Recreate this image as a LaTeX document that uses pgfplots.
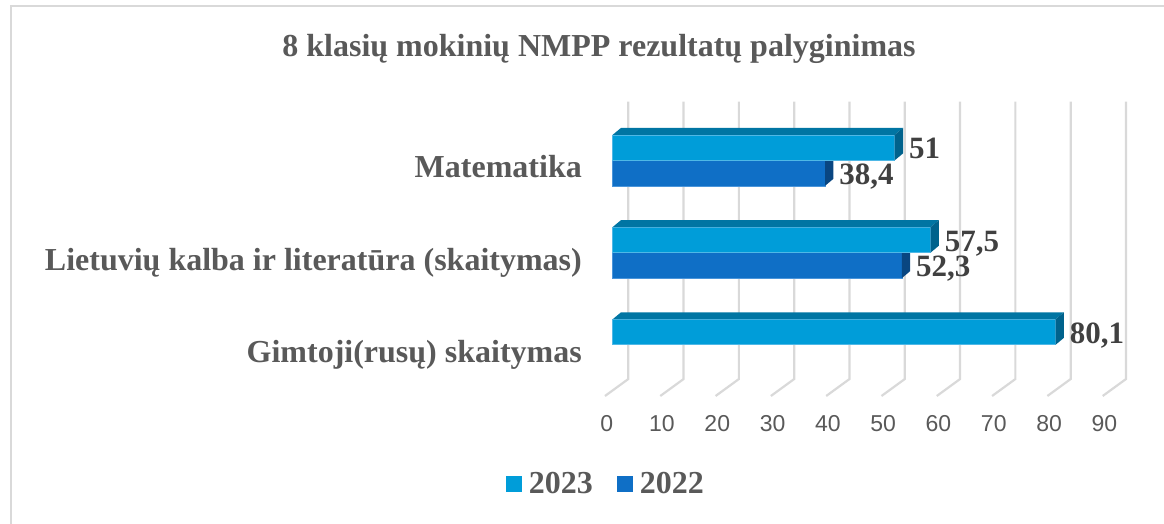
\documentclass[border=0pt]{standalone}
\usepackage{pgfplots}
\pgfplotsset{compat=1.18}
\usepackage{pgfplotstable}
\usepackage{fontspec}
\setmainfont{Liberation Serif}
\newfontfamily\arialf{Liberation Sans}
\definecolor{c23}{HTML}{009DD9}
\definecolor{c23l}{HTML}{4FB8E6}
\definecolor{top23}{HTML}{0075A3}
\definecolor{side23}{HTML}{00628C}
\definecolor{c22}{HTML}{0F6FC6}
\definecolor{c22l}{HTML}{4A95DA}
\definecolor{side22}{HTML}{094681}
\definecolor{gridc}{HTML}{D9D9D9}
\definecolor{txt}{HTML}{595959}
\definecolor{lbl}{HTML}{404040}

% category position c (0 = bottom), value v
\pgfplotstableread{
c v
2 51
1 57.5
0 80.1
}\tabA
\pgfplotstableread{
c v
2 38.4
1 52.3
}\tabB

\def\bwd{0.2766}\def\ddx{1.5}\def\ddy{0.075}

\begin{document}
\begin{tikzpicture}
\useasboundingbox (0,0) rectangle (1164bp,524bp);
\draw[gridc, line width=2bp] (11bp,0) -- (11bp,518bp) -- (1164bp,518bp);
\node[anchor=base, text=txt, inner sep=0pt, font=\bfseries\fontsize{32bp}{38bp}\selectfont] at (599bp,467bp) {8 klasių mokinių NMPP rezultatų palyginimas};
\begin{axis}[
  at={(605bp,128bp)}, anchor=south west,
  x=5.53bp, y=92.2bp,
  xmin=-1.39, xmax=92.82, ymin=-0.556, ymax=2.636,
  clip=false,
  axis line style={draw=none},
  tick style={draw=none},
  major tick length=0pt,
  xtick={0,10,...,90},
  ytick={0,1,2},
  yticklabels={Gimtoji(rusų) skaitymas, Lietuvių kalba ir literatūra (skaitymas), Matematika},
  /pgf/number format/assume math mode=true,
  /pgf/number format/use comma,
  /pgf/number format/1000 sep={},
  xticklabel style={anchor=center, inner sep=0pt, xshift=-6bp, yshift=-28bp, text=txt, font=\arialf\fontsize{23bp}{23bp}\selectfont},
  yticklabel style={anchor=base east, inner sep=0pt, xshift=-23bp, yshift=-17.6bp, text=txt, font=\bfseries\fontsize{32bp}{38bp}\selectfont},
  legend style={at={(0,-0.299)}, anchor=center, draw=none, fill=none, inner sep=0pt,
    legend columns=2, text=txt, font=\bfseries\fontsize{32bp}{38bp}\selectfont,
    nodes={inner sep=0pt},
    /tikz/every odd column/.append style={column sep=7bp},
    /tikz/every even column/.append style={column sep=24bp}},
  legend image code/.code={\fill[#1,draw=none] (0bp,-8bp) rectangle (16bp,8bp);},
  reverse legend,
  dlab/.style={nodes near coords, point meta=x,
    nodes near coords style={anchor=base west, inner sep=0pt, xshift=14bp, yshift=#1, text=lbl, font=\bfseries\fontsize{31bp}{31bp}\selectfont}},
]
% 3-D style gridlines (floor slant + back wall)
\pgfplotsinvokeforeach{0,10,...,90}{
  \draw[gridc, line width=2.2bp] ([xshift=-7.7bp]axis cs:#1,-0.556) -- ([xshift=15.6bp]axis cs:#1,-0.372) -- ([xshift=15.6bp]axis cs:#1,2.636);
}
% 2022 bars
\addplot[xbar, bar width=\bwd, bar shift=-0.1383, fill=c22, draw=c22l, line width=0.6bp, dlab=-24bp] table[x=v, y=c] {\tabB};
\addlegendentry{2022}
\pgfplotsinvokeforeach{0,1}{%
  \pgfplotstablegetelem{#1}{v}\of\tabB \let\V\pgfplotsretval
  \pgfplotstablegetelem{#1}{c}\of\tabB \let\C\pgfplotsretval
  \pgfmathsetmacro\Yb{\C-\bwd}
  \pgfmathsetmacro\Yt{\C}
  \pgfmathsetmacro\Ytt{\C+\ddy}
  \pgfmathsetmacro\Ybb{\C-\bwd+\ddy}
  \pgfmathsetmacro\Vd{\V+\ddx}
  \edef\doit{\noexpand\addplot[forget plot, draw=none, fill=side22] coordinates {(\V,\Yb) (\V,\Yt) (\Vd,\Ytt) (\Vd,\Ybb)};}%
  \doit
}
% 2023 bars
\addplot[xbar, bar width=\bwd, bar shift=0.1383, fill=c23, draw=c23l, line width=0.6bp, dlab=1.5bp] table[x=v, y=c] {\tabA};
\addlegendentry{2023}
\pgfplotsinvokeforeach{0,1,2}{%
  \pgfplotstablegetelem{#1}{v}\of\tabA \let\V\pgfplotsretval
  \pgfplotstablegetelem{#1}{c}\of\tabA \let\C\pgfplotsretval
  \pgfmathsetmacro\Yb{\C}
  \pgfmathsetmacro\Yt{\C+\bwd}
  \pgfmathsetmacro\Ytt{\C+\bwd+\ddy}
  \pgfmathsetmacro\Ybb{\C+\ddy}
  \pgfmathsetmacro\Vd{\V+\ddx}
  \edef\doit{\noexpand\addplot[forget plot, draw=none, fill=top23] coordinates {(0,\Yt) (\V,\Yt) (\Vd,\Ytt) (\ddx,\Ytt)};
    \noexpand\addplot[forget plot, draw=none, fill=side23] coordinates {(\V,\Yb) (\V,\Yt) (\Vd,\Ytt) (\Vd,\Ybb)};}%
  \doit
}
\end{axis}
\end{tikzpicture}
\end{document}
